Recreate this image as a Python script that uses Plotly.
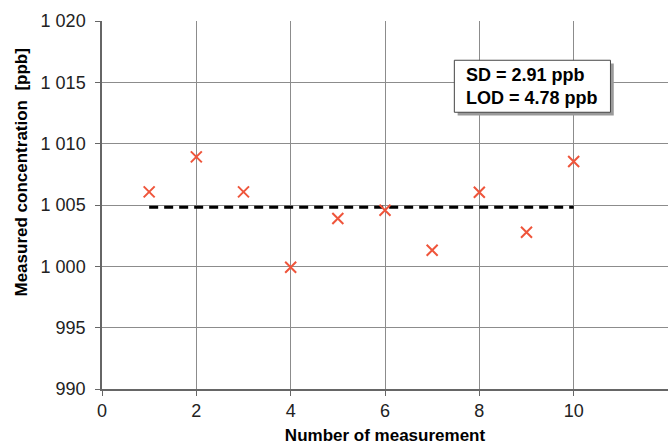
import plotly.graph_objects as go

measurement = [1, 2, 3, 4, 5, 6, 7, 8, 9, 10]
concentration = [1006.07, 1008.92, 1006.07, 999.93, 1003.9, 1004.57, 1001.31, 1006.04, 1002.78, 1008.54]
mean_conc = sum(concentration) / len(concentration)
x_ticks = [0, 2, 4, 6, 8, 10, 12]
y_ticks = [990, 995, 1000, 1005, 1010, 1015, 1020]
box_text = "SD = 2.91 ppb<br>LOD = 4.78 ppb"

font = "Liberation Sans, Arial, sans-serif"

fig = go.Figure()
fig.add_trace(go.Scatter(
    x=[measurement[0], measurement[-1]], y=[mean_conc, mean_conc],
    mode="lines", line=dict(color="black", width=3, dash="9px,6px"),
    hoverinfo="skip", showlegend=False))
fig.add_trace(go.Scatter(
    x=measurement, y=concentration, mode="markers",
    marker=dict(symbol="x-thin-open", size=11, line=dict(color="#e01e28", width=2)),
    showlegend=False))

# text box with shadow
bx0, bx1, by0, by1 = 7.47, 10.78, 1012.56, 1016.8
dx, dy = 0.07, 0.27
fig.add_shape(type="rect", xref="x", yref="y", x0=bx0 + dx, x1=bx1 + dx, y0=by0 - dy, y1=by1 - dy,
              fillcolor="#9a9a9a", line=dict(width=0), layer="above")
fig.add_shape(type="rect", xref="x", yref="y", x0=bx0, x1=bx1, y0=by0, y1=by1,
              fillcolor="white", line=dict(color="#444444", width=1), layer="above")
fig.add_annotation(x=(bx0 + bx1) / 2, y=(by0 + by1) / 2, xref="x", yref="y",
                   text="<b>" + box_text + "</b>", showarrow=False, align="left",
                   font=dict(family=font, size=18, color="black"))

# y-axis title (placed as in the reference, slightly above centre)
fig.add_annotation(x=(21 - 102) / 566, y=(389.5 - 173) / 368, xref="paper", yref="paper",
                   text="<b>Measured concentration  [ppb]</b>", textangle=-90, showarrow=False,
                   xanchor="center", yanchor="middle",
                   font=dict(family=font, size=17, color="black"))

fig.update_layout(
    width=668, height=445,
    margin=dict(l=102, r=0, t=21, b=56),
    paper_bgcolor="white", plot_bgcolor="white",
    separators=". ",
    font=dict(family=font, size=18, color="#222222"),
    xaxis=dict(range=[0, 12], tickvals=x_ticks, ticktext=["0", "2", "4", "6", "8", "10", ""],
               showgrid=True, gridcolor="#8c8c8c", gridwidth=1,
               showline=True, linecolor="#666666", linewidth=1.5,
               ticks="outside", ticklen=5, tickcolor="#666666",
               zeroline=False,
               title=dict(text="<b>Number of measurement</b>", font=dict(size=17, color="black"), standoff=9)),
    yaxis=dict(range=[990, 1020], tickvals=y_ticks, tickformat=",d",
               showgrid=True, gridcolor="#8c8c8c", gridwidth=1,
               showline=True, linecolor="#666666", linewidth=1.5,
               ticks="outside", ticklen=5, tickcolor="#666666", ticklabelstandoff=6,
               zeroline=False),
)

fig.write_html("out.html")
